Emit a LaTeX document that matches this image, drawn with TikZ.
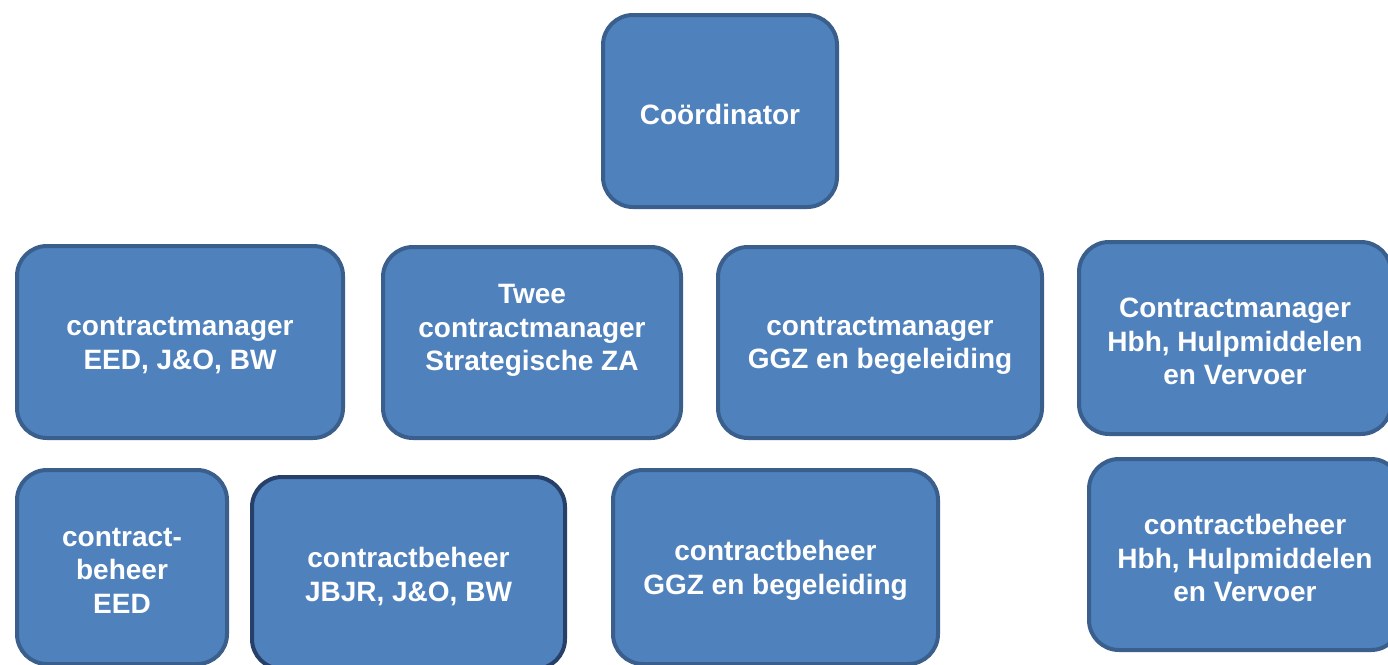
\documentclass[tikz,border=0pt]{standalone}
\usepackage{fontspec}
\setmainfont{Liberation Sans}
\definecolor{boxfill}{HTML}{4F81BD}
\definecolor{boxline}{HTML}{3A5F8C}
\definecolor{darkline}{HTML}{26406A}
\begin{document}
\begin{tikzpicture}[x=1pt,y=1pt,
  box/.style={draw=boxline, fill=boxfill, line width=4pt, rounded corners=30pt,
    inner sep=0pt, outer sep=0pt},
  txt/.style={align=center, text=white, inner sep=0pt, yshift=-3.5pt,
    font=\fontsize{28}{33.5}\selectfont\bfseries}]
\useasboundingbox (0,0) rectangle (1388,-664);
\clip (0,0) rectangle (1388,-664);
\node[box, minimum width=234pt, minimum height=192pt] (coord) at (720,-111) {};
\node[txt] (coordt) at (coord.center) {Coördinator};
\node[box, minimum width=326pt, minimum height=192pt] (b1) at (180,-342) {};
\node[txt] (b1t) at (b1.center) {contractmanager\\EED, J\&O, BW};
\node[box, minimum width=298pt, minimum height=191pt] (b2) at (532,-342.5) {};
\node[txt] (b2t) at (532,-327) {Twee\\contractmanager\\Strategische ZA};
\node[box, minimum width=324pt, minimum height=191pt] (b3) at (880,-342.5) {};
\node[txt] (b3t) at (b3.center) {contractmanager\\GGZ en begeleiding};
\node[box, minimum width=312pt, minimum height=192pt] (b4) at (1235,-338) {};
\node[txt] (b4t) at (b4.center) {Contractmanager\\Hbh, Hulpmiddelen\\en Vervoer};
\node[box, minimum width=210pt, minimum height=194pt] (c1) at (122,-567) {};
\node[txt] (c1t) at (c1.center) {contract-\\beheer\\EED};
\node[box, draw=darkline, minimum width=313pt, minimum height=192pt] (c2) at (408.5,-573) {};
\node[txt] (c2t) at (c2.center) {contractbeheer\\JBJR, J\&O, BW};
\node[box, minimum width=325pt, minimum height=194pt] (c3) at (775.5,-567) {};
\node[txt] (c3t) at (c3.center) {contractbeheer\\GGZ en begeleiding};
\node[box, minimum width=312pt, minimum height=191pt] (c4) at (1245,-554.5) {};
\node[txt] (c4t) at (c4.center) {contractbeheer\\Hbh, Hulpmiddelen\\en Vervoer};
\end{tikzpicture}
\end{document}
